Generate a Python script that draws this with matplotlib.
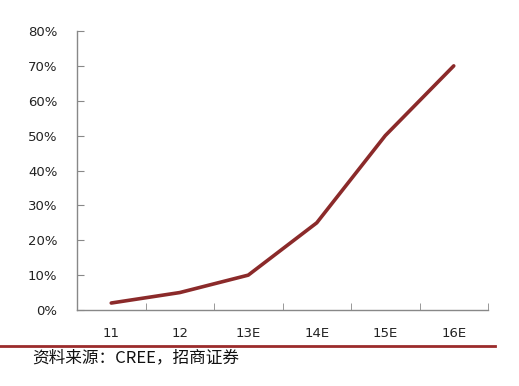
import matplotlib
matplotlib.use("Agg")
import matplotlib.pyplot as plt
from matplotlib.lines import Line2D

plt.rcParams['font.family'] = ['DejaVu Sans', 'Noto Sans CJK SC']

categories = ["11", "12", "13E", "14E", "15E", "16E"]
values = [2, 5, 10, 25, 50, 70]
yticks = [0, 10, 20, 30, 40, 50, 60, 70, 80]
source = "资料来源：CREE，招商证券"

fig = plt.figure(figsize=(5.19, 3.86), dpi=100)
ax = fig.add_axes([77/519, 1-310/386, (488-77)/519, (310-31)/386])

x = list(range(len(categories)))
ax.plot(x, values, color="#8B2A2A", linewidth=2.6, solid_capstyle="round")
ax.set_xlim(-0.5, len(categories) - 0.5)
ax.set_ylim(0, 80)
ax.set_yticks(yticks)
ax.set_yticklabels([f"{t}%" for t in yticks], fontsize=9.5, color="#222222")
ax.set_xticks(x)
ax.set_xticklabels(categories, fontsize=9.5, color="#222222")
ax.set_xticks([i - 0.5 for i in range(len(categories) + 1)], minor=True)
ax.tick_params(axis="x", which="major", length=0, pad=12)
ax.tick_params(axis="x", which="minor", direction="in", length=5, color="#888888")
ax.tick_params(axis="y", direction="in", length=5, color="#888888", pad=14)
for s in ["top", "right"]:
    ax.spines[s].set_visible(False)
for s in ["left", "bottom"]:
    ax.spines[s].set_color("#888888")
    ax.spines[s].set_linewidth(1.0)

fig.add_artist(Line2D([0, 495/519], [1-346/386, 1-346/386], color="#9B2B2B", linewidth=2.0))
fig.text(32/519, 1-358/386, source, fontsize=12, va="center", ha="left",
         family=['Noto Sans CJK SC', 'DejaVu Sans'], color="#111111")

fig.savefig("out.png", dpi=100, facecolor="white")
